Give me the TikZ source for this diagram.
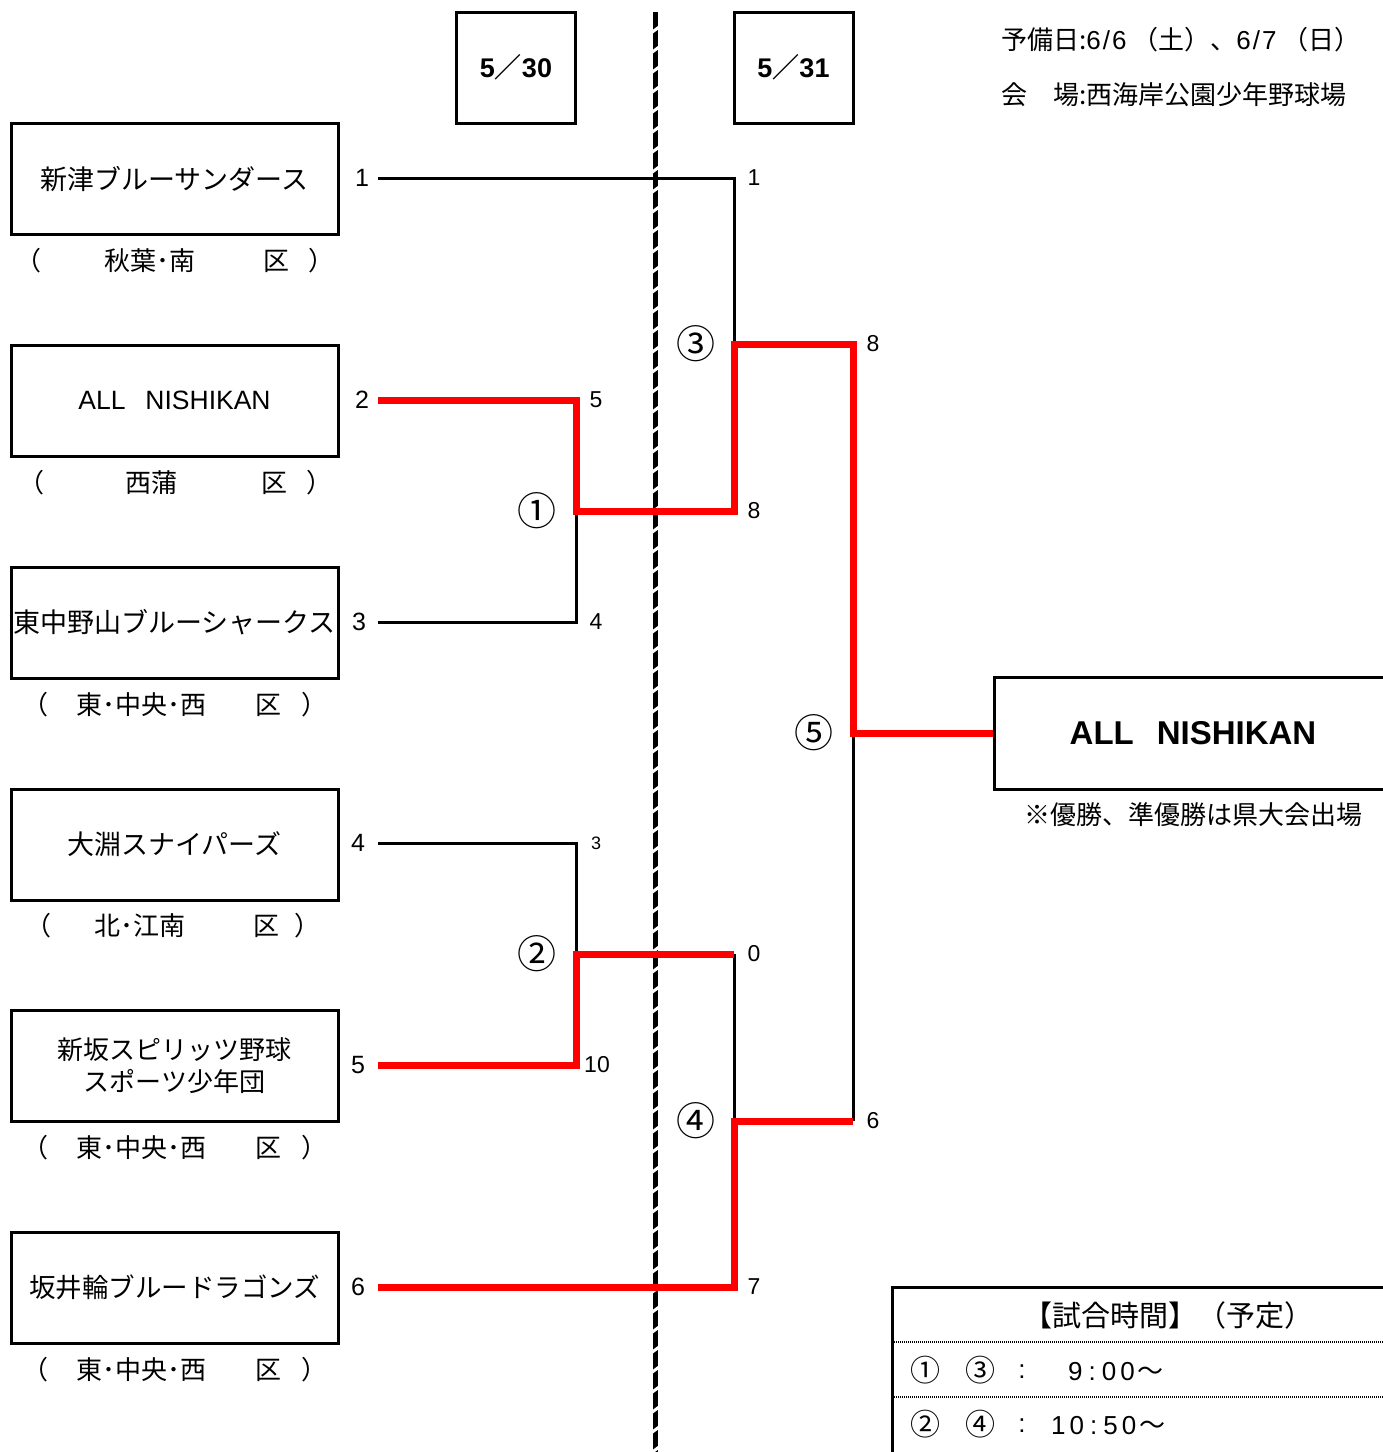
\documentclass[tikz,border=0pt]{standalone}
\usepackage{fontspec}
\setmainfont{Noto Sans CJK JP}
\newfontfamily\lat{Liberation Sans}
\newcommand\fsz[2]{\fontsize{#1}{#2}\selectfont}
\newcommand\district[7]{%
  \node[lbl,font=\fsz{26}{30}] (#1l) at (#3-6,#2) {（};
  \node[lbl,font=\fsz{26}{30}] (#1t) at (#5,#2) {#4};
  \node[lbl,font=\fsz{26}{30}] (#1k) at (#6,#2) {区};
  \node[lbl,font=\fsz{26}{30}] (#1r) at (#7+6,#2) {）};
}
\begin{document}
\begin{tikzpicture}[x=1pt,y=-1pt,
  lbl/.style={inner sep=0pt},
  team/.style={draw,line width=3pt,minimum width=327pt,minimum height=111pt,inner sep=0pt,align=center,font=\fsz{27}{32}},
  datebox/.style={draw,line width=3pt,minimum width=119pt,minimum height=111pt,inner sep=0pt,font=\fsz{27}{30}\bfseries},
  seed/.style={inner sep=0pt,font=\fsz{25}{30}\lat},
  score/.style={inner sep=0pt,font=\fsz{23}{28}\lat},
  circ/.style={inner sep=0pt,font=\fsz{39}{40}},
  blk/.style={line width=3pt,line join=miter},
  win/.style={line width=7pt,color={rgb,255:red,255;green,0;blue,0},line join=miter},
  tt/.style={inner sep=0pt,font=\fsz{30}{32}},
]
\useasboundingbox (0,0) rectangle (1383,1452);
\fill[white] (0,0) rectangle (1383,1452);

% date boxes
\node[datebox] (d1) at (516,67.5) {{\lat 5}／{\lat 30}};
\node[datebox] (d2) at (793.5,67.5) {{\lat 5}／{\lat 31}};

% center dashed line (black with slanted white gaps)
\coordinate (dl1) at (655,12);
\coordinate (dl2) at (655,1452);
\draw[line width=5pt] (dl1) -- (dl2);
\foreach \k in {0,...,71} {
  \draw[white,line width=3pt] (651,30+20*\k+3) -- (659,30+20*\k-3);
}

% top right info
\node[lbl,anchor=west,font=\fsz{26}{30}] (info1) at (1001,40) {予備日:{\lat 6\kern2pt/\kern2pt6} （土）、{\lat 6\kern2pt/\kern2pt7} （日）};
\node[lbl,anchor=west,font=\fsz{26}{30}] (info2) at (1001,95) {会　場:西海岸公園少年野球場};

% team boxes
\node[team] (t1) at (174.5,179) {新津ブルーサンダース};
\node[team,font=\fsz{26.5}{30}\lat] (t2) at (174.5,400.5) {ALL\hspace{20pt}NISHIKAN};
\node[team,font=\fsz{27}{32}] (t3) at (174.5,622.5) {東中野山ブルーシャークス};
\node[team] (t4) at (174.5,844.5) {大淵スナイパーズ};
\node[team,font=\fsz{26}{32}] (t5) at (174.5,1066) {新坂スピリッツ野球\\スポーツ少年団};
\node[team,font=\fsz{26.5}{32}] (t6) at (174.5,1287.5) {坂井輪ブルードラゴンズ};

% districts
\district{r1}{261}{35}{秋葉･南}{150}{276}{315}
\district{r2}{483}{38}{西蒲}{151}{274}{313}
\district{r3}{705}{42}{東･中央･西}{141}{268}{308}
\district{r4}{926}{44}{北･江南}{140}{266}{301}
\district{r5}{1148}{42}{東･中央･西}{141}{268}{308}
\district{r6}{1370}{42}{東･中央･西}{141}{268}{308}

% seeds
\node[seed] (n1) at (362,178) {1};
\node[seed] (n2) at (362,400) {2};
\node[seed] (n3) at (359,622) {3};
\node[seed] (n4) at (358,843) {4};
\node[seed] (n5) at (358,1065) {5};
\node[seed] (n6) at (358,1287) {6};

% bracket coordinates
\coordinate (p1) at (378,178);
\coordinate (p2) at (378,400);
\coordinate (p3) at (378,622);
\coordinate (p4) at (378,843);
\coordinate (p5) at (378,1065);
\coordinate (p6) at (378,1287);
\coordinate (a2) at (576,400);
\coordinate (a3) at (576,622);
\coordinate (m1) at (576,511);
\coordinate (a4) at (576,843);
\coordinate (a5) at (576,1065);
\coordinate (m2) at (576,954);
\coordinate (b1) at (734,178);
\coordinate (bm1) at (734,511);
\coordinate (m3) at (734,344);
\coordinate (bm2) at (734,954);
\coordinate (b6) at (734,1287);
\coordinate (m4) at (734,1121);
\coordinate (c3) at (853,344);
\coordinate (c4) at (853,1121);
\coordinate (m5) at (853,733);

% champion
\node[draw,line width=3pt,minimum width=406pt,minimum height=112pt,inner sep=0pt] (champ) at (1197,733) {};
\node[lbl,font=\fsz{33}{36}\lat\bfseries] (champtxt) at (1193,733) {ALL\hspace{23pt}NISHIKAN};
\node[lbl,font=\fsz{26}{30}] (note) at (1193,815) {※優勝、準優勝は県大会出場};

% black lines
\draw[blk] (p1) -- (b1) -- (m3);
\draw[blk] (p3) -- (a3) -- (m1);
\draw[blk] (p4) -- (a4) -- (m2);
\draw[blk] (bm2) -- (m4);
\draw[blk] (c4) -- (m5);

% red winner lines
\draw[win] (p2) -- (a2) -- (m1) -- (bm1) -- (m3) -- (c3) -- (m5) -- (champ.west);
\draw[win] (p5) -- (a5) -- (m2) -- (bm2);
\draw[win] (p6) -- (b6) -- (m4) -- (c4);

% scores
\node[score] (s2) at (596,400) {5};
\node[score] (s3) at (596,622) {4};
\node[score,font=\fsz{18}{22}\lat] (s4) at (596,843) {3};
\node[score] (s5) at (597,1065) {10};
\node[score] (s1) at (754,178) {1};
\node[score] (sw1) at (754,511) {8};
\node[score] (sw2) at (754,954) {0};
\node[score] (s6) at (754,1287) {7};
\node[score] (sw3) at (873,344) {8};
\node[score] (sw4) at (873,1121) {6};

% match numbers
\node[circ] (g1) at (537,511) {①};
\node[circ] (g2) at (537,954) {②};
\node[circ] (g3) at (696,344) {③};
\node[circ] (g4) at (696,1121) {④};
\node[circ] (g5) at (814,733) {⑤};

% time table
\coordinate (tt1) at (892,1460);
\coordinate (tt2) at (892,1287);
\coordinate (tt3) at (1400,1287);
\draw[line width=3pt] (tt1) -- (tt2) -- (tt3);
\coordinate (dt1) at (894,1342);
\coordinate (dt2) at (1383,1342);
\coordinate (dt3) at (894,1397);
\coordinate (dt4) at (1383,1397);
\draw[line width=2pt,dash pattern=on 1pt off 1pt] (dt1) -- (dt2);
\draw[line width=2pt,dash pattern=on 1pt off 1pt] (dt3) -- (dt4);
\node[lbl,font=\fsz{29}{32}] (tth) at (1168,1315) {【試合時間】（予定）};
\node[tt] (ta1) at (925,1370) {①};
\node[tt] (ta2) at (980,1370) {③};
\node[tt,font=\fsz{26}{30}\lat] (ta3) at (1022,1372) {:};
\node[tt,anchor=west,font=\fsz{26}{30}\lat] (ta4) at (1068,1372) {9\kern6pt:\kern6pt0\kern4pt0\kern3pt{\fontspec{Noto Sans CJK JP}～}};
\node[tt] (tb1) at (925,1424) {②};
\node[tt] (tb2) at (980,1424) {④};
\node[tt,font=\fsz{26}{30}\lat] (tb3) at (1022,1426) {:};
\node[tt,anchor=west,font=\fsz{26}{30}\lat] (tb4) at (1051,1426) {1\kern4pt0\kern6pt:\kern6pt5\kern4pt0\kern3pt{\fontspec{Noto Sans CJK JP}～}};
\end{tikzpicture}
\end{document}
